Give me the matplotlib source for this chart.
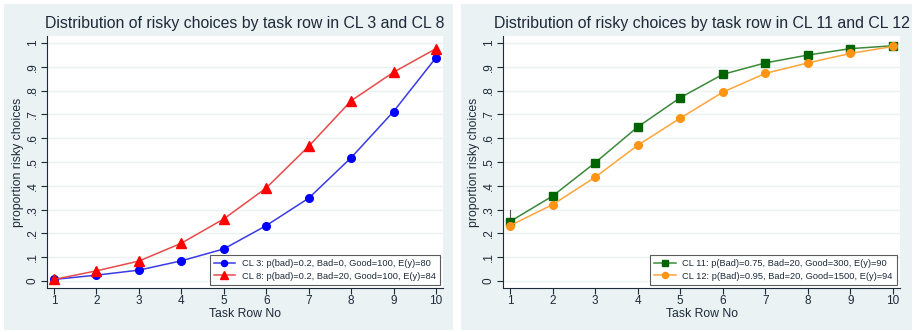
import numpy as np
import matplotlib
matplotlib.use("Agg")
import matplotlib.pyplot as plt
from matplotlib.patches import Rectangle
from matplotlib.ticker import FuncFormatter

plt.rcParams["font.family"] = ["Liberation Sans", "DejaVu Sans"]

task_rows = [1, 2, 3, 4, 5, 6, 7, 8, 9, 10]

cl3 = [0.007, 0.025, 0.046, 0.085, 0.135, 0.233, 0.348, 0.518, 0.712, 0.938]
cl8 = [0.007, 0.043, 0.084, 0.159, 0.261, 0.391, 0.566, 0.757, 0.877, 0.976]
cl11 = [0.250, 0.357, 0.497, 0.647, 0.770, 0.868, 0.916, 0.949, 0.976, 0.988]
cl12 = [0.233, 0.321, 0.436, 0.570, 0.684, 0.793, 0.872, 0.916, 0.956, 0.985]
cl11_spike = [0.250, 0.300]   # short vertical line above first CL 11 point

label_cl3 = "CL 3: p(bad)=0.2, Bad=0, Good=100, E(y)=80"
label_cl8 = "CL 8: p(bad)=0.2, Bad=20, Good=100, E(y)=84"
label_cl11 = "CL 11: p(Bad)=0.75, Bad=20, Good=300, E(y)=90"
label_cl12 = "CL 12: p(Bad)=0.95, Bad=20, Good=1500, E(y)=94"

title_left = "Distribution of risky choices by task row in CL 3 and CL 8"
title_right = "Distribution of risky choices by task row in CL 11 and CL 12"

y_ticks = [0, 0.1, 0.2, 0.3, 0.4, 0.5, 0.6, 0.7, 0.8, 0.9, 1.0]

BG = "#eaf2f3"
TXT = "#1e2a3a"

fig = plt.figure(figsize=(9.15, 3.32), dpi=100)
fig.patch.set_facecolor("white")

# panel backgrounds (Stata style)
for x0, x1 in [(4, 453), (461, 912)]:
    fig.add_artist(Rectangle((x0 / 915, 2 / 332), (x1 - x0) / 915, 326 / 332,
                             transform=fig.transFigure, facecolor=BG,
                             edgecolor="none", zorder=-10))

ax1 = fig.add_axes([47 / 915, 1 - 288 / 332, 396 / 915, 252 / 332])
ax2 = fig.add_axes([503 / 915, 1 - 288 / 332, 397 / 915, 252 / 332])


def style(ax, title):
    ax.set_facecolor("white")
    ax.set_xlim(0.835, 10.165)
    ax.set_ylim(-0.029, 1.029)
    ax.set_xticks(task_rows)
    ax.set_yticks(y_ticks)
    ax.yaxis.set_major_formatter(FuncFormatter(
        lambda v, p: "0" if v == 0 else ("1" if abs(v - 1) < 1e-9 else f"{v:.1f}".lstrip("0"))))
    for lab in ax.get_yticklabels():
        lab.set_rotation(90)
        lab.set_va("center")
    ax.tick_params(axis="both", labelsize=8.5, colors=TXT, length=4, width=0.8)
    ax.tick_params(axis="x", pad=1)
    ax.tick_params(axis="y", pad=2)
    ax.grid(True, axis="y", color=BG, linewidth=1)
    ax.set_axisbelow(True)
    for s in ["top", "right"]:
        ax.spines[s].set_visible(False)
    for s in ["left", "bottom"]:
        ax.spines[s].set_color(TXT)
        ax.spines[s].set_linewidth(0.8)
    ax.set_xlabel("Task Row No", fontsize=8.8, color=TXT, labelpad=1)
    ax.set_ylabel("proportion risky choices", fontsize=8.8, color=TXT, labelpad=2)
    ax.set_title(title, fontsize=11.4, color=TXT, pad=6)


style(ax1, title_left)
style(ax2, title_right)

ax1.plot(task_rows, cl3, color="#3a3ae6", marker="o", markersize=5.5,
         markerfacecolor="#0000ff", markeredgecolor="#0000ff", linewidth=1.1, label=label_cl3)
ax1.plot(task_rows, cl8, color="#e84a4a", marker="^", markersize=6.5,
         markerfacecolor="#ff0000", markeredgecolor="#ff0000", linewidth=1.1, label=label_cl8)

ax2.plot([1, 1], cl11_spike, color="#555555", linewidth=0.8)
ax2.plot(task_rows, cl11, color="#3a8a3a", marker="s", markersize=5.5,
         markerfacecolor="#006400", markeredgecolor="#006400", linewidth=1.1, label=label_cl11)
ax2.plot(task_rows, cl12, color="#ffa53a", marker="o", markersize=5.5,
         markerfacecolor="#ff9414", markeredgecolor="#ff9414", linewidth=1.1, label=label_cl12)

for ax in (ax1, ax2):
    leg = ax.legend(loc="lower right", fontsize=6.7, frameon=True, fancybox=False,
                    borderpad=0.45, labelspacing=0.4, handlelength=2.3,
                    handletextpad=0.7, borderaxespad=0.35, markerscale=0.8)
    leg.get_frame().set_edgecolor("#333333")
    leg.get_frame().set_linewidth(0.8)
    for t in leg.get_texts():
        t.set_color(TXT)

fig.savefig("out.png", dpi=100, facecolor=fig.get_facecolor())
